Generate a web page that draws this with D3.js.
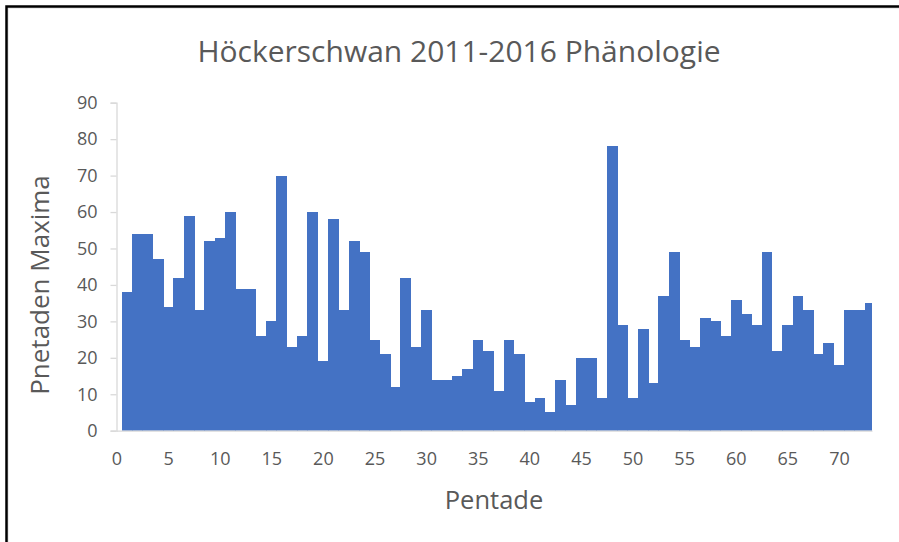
<!DOCTYPE html>
<html><head><meta charset="utf-8">
<script src="https://cdn.jsdelivr.net/npm/d3@7"></script>
<style>body{margin:0;background:#fff}svg{display:block}</style>
</head><body>
<script>
const pentades = d3.range(1, 74);
const maxima = [38,54,54,47,34,42,59,33,52,53,60,39,39,26,30,70,23,26,60,19,58,33,52,49,25,21,12,42,23,33,14,14,15,17,25,22,11,25,21,8,9,5,14,7,20,20,9,78,29,9,28,13,37,49,25,23,31,30,26,36,32,29,49,22,29,37,33,21,24,18,33,33,35];
const xTicks = [0,5,10,15,20,25,30,35,40,45,50,55,60,65,70];
const yTicks = [0,10,20,30,40,50,60,70,80,90];
const title = "Höckerschwan 2011-2016 Phänologie";
const xTitle = "Pentade";
const yTitle = "Pnetaden Maxima";

const W = 899, H = 542;
const F = "'Open Sans', sans-serif";
const svg = d3.select("body").append("svg").attr("width", W).attr("height", H);

const x = d3.scaleLinear().domain([0, 73.2]).range([116.5, 872]);
const y = d3.scaleLinear().domain([0, 90]).range([430.7, 102.7]);

// frame
svg.append("rect").attr("x", 8).attr("y", 8).attr("width", W).attr("height", H)
  .attr("fill", "none").attr("stroke", "#d9d9d9").attr("stroke-width", 1);
svg.append("path").attr("d", `M6.5,${H} V6.5 H${W}`).attr("fill", "none")
  .attr("stroke", "#000").attr("stroke-width", 2.5);

svg.append("defs").append("clipPath").attr("id", "plot")
  .append("rect").attr("x", x(0)).attr("y", 0).attr("width", x(73.2) - x(0)).attr("height", y(0));

// bars
svg.append("g").attr("clip-path", "url(#plot)").attr("shape-rendering", "crispEdges")
  .selectAll("rect").data(pentades).join("rect")
  .attr("x", (d) => x(d - 0.5))
  .attr("width", (d) => x(d + 0.5) - x(d - 0.5) + 0.6)
  .attr("y", (d, i) => y(maxima[i]))
  .attr("height", (d, i) => y(0) - y(maxima[i]))
  .attr("fill", "#4472C4");

// y axis
const ya = svg.append("g").attr("transform", `translate(${x(0)},0)`)
  .call(d3.axisLeft(y).tickValues(yTicks).tickSize(6).tickPadding(13));
ya.select(".domain").attr("stroke", "#d9d9d9").attr("stroke-width", 1.3);
ya.selectAll(".tick line").attr("stroke", "#d9d9d9").attr("stroke-width", 1.3);
ya.selectAll("text").attr("font-family", F).attr("font-size", 18).attr("fill", "#595959");

// x axis
const xa = svg.append("g").attr("transform", `translate(0,${y(0)})`)
  .call(d3.axisBottom(x).tickValues(xTicks).tickSize(0).tickPadding(22).tickSizeOuter(0));
xa.select(".domain").attr("stroke", "#d9d9d9").attr("stroke-width", 1.3);
xa.selectAll("text").attr("font-family", F).attr("font-size", 18).attr("fill", "#595959");

// titles
svg.append("text").attr("x", 459).attr("y", 62).attr("text-anchor", "middle")
  .attr("font-family", F).attr("font-size", 30).attr("fill", "#595959").text(title);
svg.append("text").attr("x", 494).attr("y", 509).attr("text-anchor", "middle")
  .attr("font-family", F).attr("font-size", 25.5).attr("fill", "#595959").text(xTitle);
svg.append("text").attr("transform", "translate(49,285) rotate(-90)").attr("text-anchor", "middle")
  .attr("font-family", F).attr("font-size", 26).attr("fill", "#595959").text(yTitle);
</script>
</body></html>
